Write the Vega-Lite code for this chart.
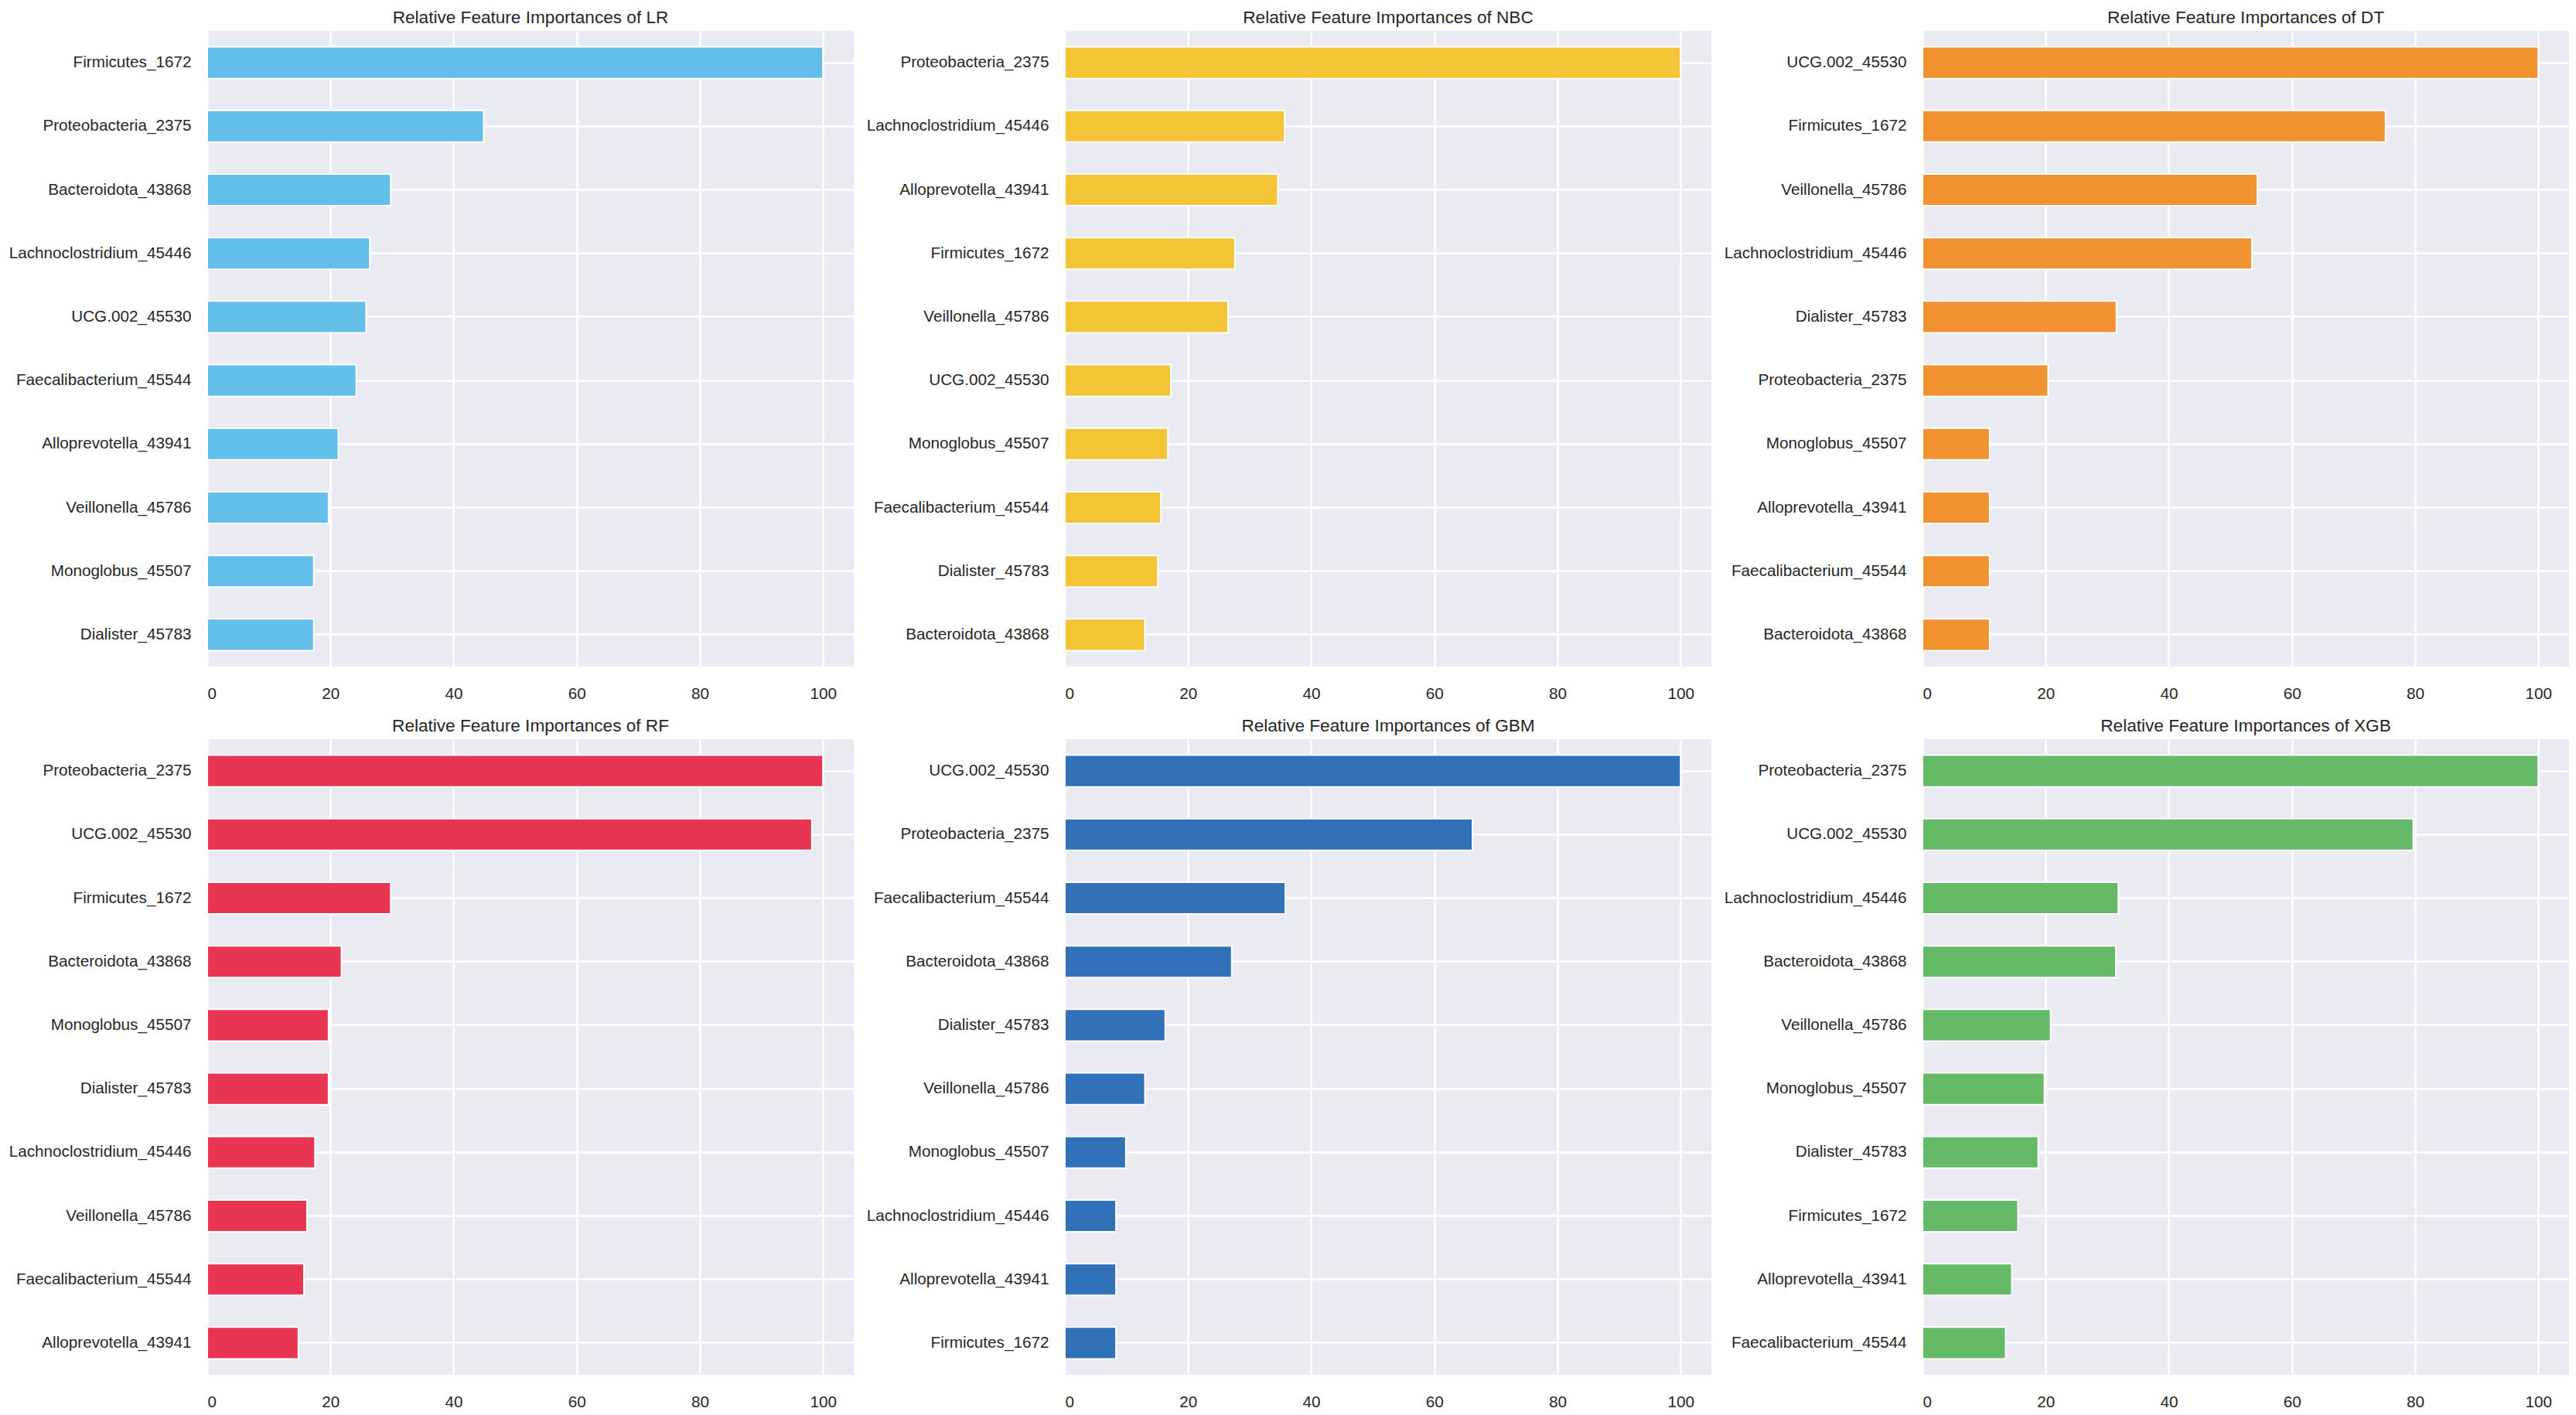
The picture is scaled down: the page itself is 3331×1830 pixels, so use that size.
{
  "$schema": "https://vega.github.io/schema/vega-lite/v6.json",
  "description": "Relative feature importances of six classifiers, one horizontal bar panel each.",
  "background": "white",
  "padding": {"left": 11, "top": 12, "right": 8, "bottom": 8},
  "bounds": "flush",
  "columns": 3,
  "spacing": {"row": 94, "column": 273},
  "data": {
    "values": [
      {"model": "LR", "feature": "Firmicutes_1672", "value": 100},
      {"model": "LR", "feature": "Proteobacteria_2375", "value": 44.9},
      {"model": "LR", "feature": "Bacteroidota_43868", "value": 29.8},
      {"model": "LR", "feature": "Lachnoclostridium_45446", "value": 26.4},
      {"model": "LR", "feature": "UCG.002_45530", "value": 25.8},
      {"model": "LR", "feature": "Faecalibacterium_45544", "value": 24.2},
      {"model": "LR", "feature": "Alloprevotella_43941", "value": 21.3},
      {"model": "LR", "feature": "Veillonella_45786", "value": 19.7},
      {"model": "LR", "feature": "Monoglobus_45507", "value": 17.3},
      {"model": "LR", "feature": "Dialister_45783", "value": 17.3},

      {"model": "NBC", "feature": "Proteobacteria_2375", "value": 100},
      {"model": "NBC", "feature": "Lachnoclostridium_45446", "value": 35.7},
      {"model": "NBC", "feature": "Alloprevotella_43941", "value": 34.6},
      {"model": "NBC", "feature": "Firmicutes_1672", "value": 27.6},
      {"model": "NBC", "feature": "Veillonella_45786", "value": 26.5},
      {"model": "NBC", "feature": "UCG.002_45530", "value": 17.2},
      {"model": "NBC", "feature": "Monoglobus_45507", "value": 16.7},
      {"model": "NBC", "feature": "Faecalibacterium_45544", "value": 15.6},
      {"model": "NBC", "feature": "Dialister_45783", "value": 15.1},
      {"model": "NBC", "feature": "Bacteroidota_43868", "value": 13.0},

      {"model": "DT", "feature": "UCG.002_45530", "value": 100},
      {"model": "DT", "feature": "Firmicutes_1672", "value": 75.2},
      {"model": "DT", "feature": "Veillonella_45786", "value": 54.4},
      {"model": "DT", "feature": "Lachnoclostridium_45446", "value": 53.5},
      {"model": "DT", "feature": "Dialister_45783", "value": 31.5},
      {"model": "DT", "feature": "Proteobacteria_2375", "value": 20.4},
      {"model": "DT", "feature": "Monoglobus_45507", "value": 10.9},
      {"model": "DT", "feature": "Alloprevotella_43941", "value": 10.9},
      {"model": "DT", "feature": "Faecalibacterium_45544", "value": 10.9},
      {"model": "DT", "feature": "Bacteroidota_43868", "value": 10.9},

      {"model": "RF", "feature": "Proteobacteria_2375", "value": 100},
      {"model": "RF", "feature": "UCG.002_45530", "value": 98.2},
      {"model": "RF", "feature": "Firmicutes_1672", "value": 29.8},
      {"model": "RF", "feature": "Bacteroidota_43868", "value": 21.8},
      {"model": "RF", "feature": "Monoglobus_45507", "value": 19.7},
      {"model": "RF", "feature": "Dialister_45783", "value": 19.7},
      {"model": "RF", "feature": "Lachnoclostridium_45446", "value": 17.5},
      {"model": "RF", "feature": "Veillonella_45786", "value": 16.2},
      {"model": "RF", "feature": "Faecalibacterium_45544", "value": 15.7},
      {"model": "RF", "feature": "Alloprevotella_43941", "value": 14.8},

      {"model": "GBM", "feature": "UCG.002_45530", "value": 100},
      {"model": "GBM", "feature": "Proteobacteria_2375", "value": 66.2},
      {"model": "GBM", "feature": "Faecalibacterium_45544", "value": 35.8},
      {"model": "GBM", "feature": "Bacteroidota_43868", "value": 27.1},
      {"model": "GBM", "feature": "Dialister_45783", "value": 16.3},
      {"model": "GBM", "feature": "Veillonella_45786", "value": 13.0},
      {"model": "GBM", "feature": "Monoglobus_45507", "value": 9.9},
      {"model": "GBM", "feature": "Lachnoclostridium_45446", "value": 8.3},
      {"model": "GBM", "feature": "Alloprevotella_43941", "value": 8.3},
      {"model": "GBM", "feature": "Firmicutes_1672", "value": 8.3},

      {"model": "XGB", "feature": "Proteobacteria_2375", "value": 100},
      {"model": "XGB", "feature": "UCG.002_45530", "value": 79.7},
      {"model": "XGB", "feature": "Lachnoclostridium_45446", "value": 31.8},
      {"model": "XGB", "feature": "Bacteroidota_43868", "value": 31.4},
      {"model": "XGB", "feature": "Veillonella_45786", "value": 20.8},
      {"model": "XGB", "feature": "Monoglobus_45507", "value": 19.8},
      {"model": "XGB", "feature": "Dialister_45783", "value": 18.8},
      {"model": "XGB", "feature": "Firmicutes_1672", "value": 15.5},
      {"model": "XGB", "feature": "Alloprevotella_43941", "value": 14.5},
      {"model": "XGB", "feature": "Faecalibacterium_45544", "value": 13.5}
    ]
  },
  "concat": [
    {
      "title": "Relative Feature Importances of LR",
      "width": 836, "height": 822,
      "transform": [{"filter": "datum.model === 'LR'"}],
      "mark": {"type": "bar", "color": "#63BEEA"},
      "encoding": {
        "y": {"field": "feature", "type": "nominal", "sort": null, "scale": {"paddingInner": 0.5, "paddingOuter": 0.25}},
        "x": {"field": "value", "type": "quantitative", "scale": {"domain": [0, 105], "nice": false}, "axis": {"values": [0, 20, 40, 60, 80, 100]}}
      }
    },
    {
      "title": "Relative Feature Importances of NBC",
      "width": 836, "height": 822,
      "transform": [{"filter": "datum.model === 'NBC'"}],
      "mark": {"type": "bar", "color": "#F4C437"},
      "encoding": {
        "y": {"field": "feature", "type": "nominal", "sort": null, "scale": {"paddingInner": 0.5, "paddingOuter": 0.25}},
        "x": {"field": "value", "type": "quantitative", "scale": {"domain": [0, 105], "nice": false}, "axis": {"values": [0, 20, 40, 60, 80, 100]}}
      }
    },
    {
      "title": "Relative Feature Importances of DT",
      "width": 836, "height": 822,
      "transform": [{"filter": "datum.model === 'DT'"}],
      "mark": {"type": "bar", "color": "#F19230"},
      "encoding": {
        "y": {"field": "feature", "type": "nominal", "sort": null, "scale": {"paddingInner": 0.5, "paddingOuter": 0.25}},
        "x": {"field": "value", "type": "quantitative", "scale": {"domain": [0, 105], "nice": false}, "axis": {"values": [0, 20, 40, 60, 80, 100]}}
      }
    },
    {
      "title": "Relative Feature Importances of RF",
      "width": 836, "height": 822,
      "transform": [{"filter": "datum.model === 'RF'"}],
      "mark": {"type": "bar", "color": "#E93554"},
      "encoding": {
        "y": {"field": "feature", "type": "nominal", "sort": null, "scale": {"paddingInner": 0.5, "paddingOuter": 0.25}},
        "x": {"field": "value", "type": "quantitative", "scale": {"domain": [0, 105], "nice": false}, "axis": {"values": [0, 20, 40, 60, 80, 100]}}
      }
    },
    {
      "title": "Relative Feature Importances of GBM",
      "width": 836, "height": 822,
      "transform": [{"filter": "datum.model === 'GBM'"}],
      "mark": {"type": "bar", "color": "#3171B8"},
      "encoding": {
        "y": {"field": "feature", "type": "nominal", "sort": null, "scale": {"paddingInner": 0.5, "paddingOuter": 0.25}},
        "x": {"field": "value", "type": "quantitative", "scale": {"domain": [0, 105], "nice": false}, "axis": {"values": [0, 20, 40, 60, 80, 100]}}
      }
    },
    {
      "title": "Relative Feature Importances of XGB",
      "width": 836, "height": 822,
      "transform": [{"filter": "datum.model === 'XGB'"}],
      "mark": {"type": "bar", "color": "#65BA67"},
      "encoding": {
        "y": {"field": "feature", "type": "nominal", "sort": null, "scale": {"paddingInner": 0.5, "paddingOuter": 0.25}},
        "x": {"field": "value", "type": "quantitative", "scale": {"domain": [0, 105], "nice": false}, "axis": {"values": [0, 20, 40, 60, 80, 100]}}
      }
    }
  ],
  "config": {
    "view": {"fill": "#EAEAF2", "stroke": null},
    "bar": {"stroke": "white", "strokeWidth": 2},
    "axis": {
      "title": null,
      "domain": false,
      "ticks": false,
      "tickSize": 0,
      "grid": true,
      "gridColor": "white",
      "gridWidth": 2.5,
      "labelFont": "Liberation Sans",
      "labelFontSize": 20.7,
      "labelColor": "#262626",
      "labelLimit": 0
    },
    "axisY": {"labelPadding": 21, "bandPosition": 0.5},
    "axisX": {"labelPadding": 25},
    "title": {
      "font": "Liberation Sans",
      "fontSize": 22.6,
      "fontWeight": "normal",
      "color": "#262626",
      "anchor": "middle",
      "baseline": "alphabetic",
      "offset": 5
    }
  }
}
